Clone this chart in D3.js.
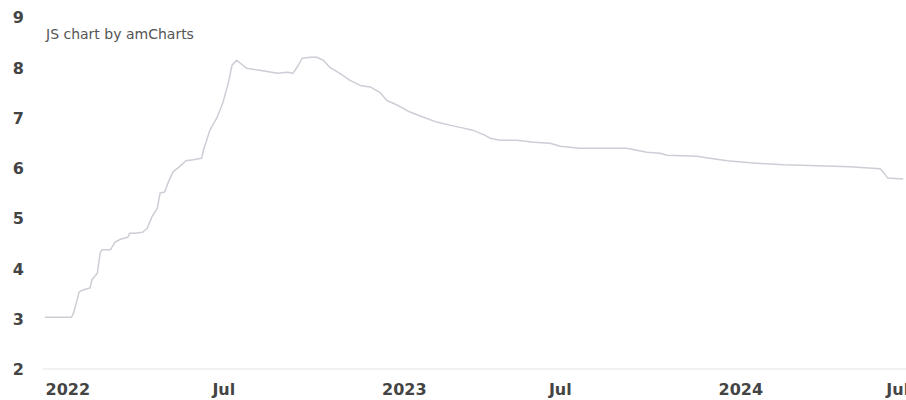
<!DOCTYPE html>
<html>
<head>
<meta charset="utf-8">
<script src="https://cdn.jsdelivr.net/npm/d3@7"></script>
<style>
  html, body { margin: 0; padding: 0; background: #fff; }
  svg { display: block; font-family: "DejaVu Sans", Verdana, sans-serif; }
</style>
</head>
<body>
<svg id="chart"></svg>
<script>
// values
const dates = [
  "2022-01-03","2022-02-01","2022-02-03","2022-02-07","2022-02-09","2022-02-13","2022-02-21","2022-02-23",
  "2022-03-01","2022-03-04","2022-03-06","2022-03-15","2022-03-20","2022-03-26","2022-04-03","2022-04-05",
  "2022-04-11","2022-04-19","2022-04-24","2022-04-29","2022-05-05","2022-05-08","2022-05-13","2022-05-17",
  "2022-05-22","2022-05-30","2022-06-05","2022-06-13","2022-06-22","2022-06-24","2022-07-01","2022-07-09",
  "2022-07-15","2022-07-21","2022-07-25","2022-07-30","2022-08-03","2022-08-10","2022-08-24","2022-09-12",
  "2022-09-23","2022-09-29","2022-10-05","2022-10-09","2022-10-18","2022-10-25","2022-11-01","2022-11-08",
  "2022-11-19","2022-11-30","2022-12-11","2022-12-22","2023-01-02","2023-01-09","2023-01-20","2023-02-03",
  "2023-02-17","2023-03-04","2023-03-18","2023-04-02","2023-04-12","2023-04-25","2023-05-01","2023-05-12",
  "2023-05-30","2023-06-17","2023-07-05","2023-07-16","2023-08-06","2023-08-28","2023-09-26","2023-10-18",
  "2023-11-01","2023-11-09","2023-12-11","2023-12-18","2024-01-13","2024-02-07","2024-03-14","2024-04-20",
  "2024-05-25","2024-06-27","2024-06-30","2024-07-05","2024-07-22"
];
const values = [
  3.03, 3.03, 3.11, 3.37, 3.53, 3.57, 3.61, 3.77,
  3.91, 4.31, 4.37, 4.37, 4.52, 4.58, 4.62, 4.70,
  4.70, 4.72, 4.80, 5.02, 5.20, 5.50, 5.52, 5.72,
  5.92, 6.04, 6.14, 6.16, 6.19, 6.35, 6.75, 7.01,
  7.29, 7.69, 8.04, 8.14, 8.08, 7.98, 7.94, 7.88,
  7.90, 7.88, 8.04, 8.18, 8.20, 8.20, 8.14, 8.00,
  7.88, 7.74, 7.64, 7.61, 7.49, 7.34, 7.25, 7.11,
  7.01, 6.91, 6.85, 6.79, 6.75, 6.65, 6.59, 6.55,
  6.55, 6.51, 6.49, 6.43, 6.39, 6.39, 6.39, 6.31,
  6.29, 6.25, 6.23, 6.21, 6.14, 6.10, 6.06, 6.04,
  6.02, 5.98, 5.92, 5.80, 5.78
];
const yTicks = [2, 3, 4, 5, 6, 7, 8, 9];
const xTicks = ["2022-01-01", "2022-07-01", "2023-01-01", "2023-07-01", "2024-01-01", "2024-07-01"];
const xDomain = ["2022-01-01", "2024-07-25"];

const width = 906;
const height = 400;
const parse = d3.utcParse("%Y-%m-%d");

const data = dates.map((d, i) => ({ date: parse(d), value: values[i] }));

const svg = d3.select("#chart").attr("width", width).attr("height", height);

const x = d3.scaleUtc()
  .domain(xDomain.map(parse))
  .range([43, 906]);

const y = d3.scaleLinear()
  .domain([2, 9])
  .range([369, 17]);

// faint base line
svg.append("line")
  .attr("x1", x.range()[0])
  .attr("x2", x.range()[1])
  .attr("y1", y(2))
  .attr("y2", y(2))
  .attr("stroke", "#e4e4e8")
  .attr("stroke-width", 1);

// y axis
const yAxis = svg.append("g")
  .attr("transform", "translate(24,0)")
  .call(d3.axisLeft(y).tickValues(yTicks).tickSize(0).tickPadding(0).tickFormat(d3.format("d")));
yAxis.select(".domain").remove();
yAxis.selectAll("text")
  .attr("x", 0)
  .attr("dy", "0.36em")
  .attr("fill", "#444")
  .attr("font-size", 16)
  .attr("font-weight", "bold")
  .attr("font-family", "DejaVu Sans, Verdana, sans-serif");

// x axis, labels start at their grid position
const xAxis = svg.append("g")
  .attr("transform", "translate(0,395)")
  .call(d3.axisBottom(x)
    .tickValues(xTicks.map(parse))
    .tickSize(0)
    .tickFormat((d) => d.getUTCMonth() === 0 ? d3.utcFormat("%Y")(d) : d3.utcFormat("%b")(d)));
xAxis.select(".domain").remove();
xAxis.selectAll("text")
  .attr("y", 0)
  .attr("dy", 0)
  .attr("dx", 2)
  .attr("text-anchor", "start")
  .attr("fill", "#444")
  .attr("font-size", 16)
  .attr("font-weight", "bold")
  .attr("font-family", "DejaVu Sans, Verdana, sans-serif");

// the series
const line = d3.line()
  .x((d) => x(d.date))
  .y((d) => y(d.value));

svg.append("path")
  .datum(data)
  .attr("fill", "none")
  .attr("stroke", "#cdcdd6")
  .attr("stroke-width", 1.5)
  .attr("stroke-linejoin", "round")
  .attr("d", line);

// credit text
svg.append("text")
  .attr("x", 46)
  .attr("y", 39)
  .attr("fill", "#555")
  .attr("font-size", 14)
  .text("JS chart by amCharts");
</script>
</body>
</html>
